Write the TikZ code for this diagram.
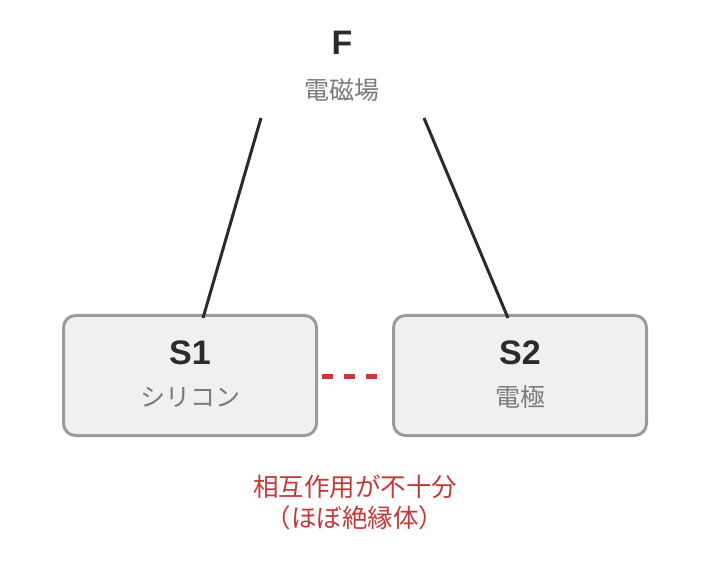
\documentclass[tikz,border=0pt]{standalone}
\usepackage{fontspec}
\setmainfont{Liberation Sans}
\newfontfamily\jpfont{Noto Sans CJK JP}
\definecolor{edgegray}{HTML}{9B9B9B}
\definecolor{fillgray}{HTML}{F0F0F0}
\definecolor{inkdark}{HTML}{2B2B2B}
\definecolor{subgray}{HTML}{7A7A7A}
\definecolor{weakred}{HTML}{C43A3A}

\begin{document}
\begin{tikzpicture}[x=1pt,y=-1pt,
part/.style = {draw=edgegray, line width=3pt, fill=fillgray, rounded corners=12pt,
               minimum width=253pt, minimum height=120pt},
label big/.style = {font=\fontsize{34}{34}\selectfont\bfseries, text=inkdark},
label jp/.style = {font=\jpfont\fontsize{25}{25}\selectfont, text=subgray},
link/.style = {draw=inkdark, line width=3pt}]
\useasboundingbox (0,0) rectangle (710,577);
% field on top
\node[label big] (F) at (342,43) {F};
\node[label jp] (Fkind) at (342,90) {電磁場};
\coordinate (Fleft) at (261,118);
\coordinate (Fright) at (424,118);
% the two parts
\node[part] (S1) at (190,375.5) {};
\node[label big] (S1name) at (190,353) {S1};
\node[label jp] (S1kind) at (190,397) {シリコン};
\node[part] (S2) at (520,375.5) {};
\node[label big] (S2name) at (520,353) {S2};
\node[label jp] (S2kind) at (520,397) {電極};
\draw[link] (Fleft) -- ([xshift=13pt,yshift=-4pt]S1.north);
\draw[link] (Fright) -- ([xshift=-12pt,yshift=-4pt]S2.north);
\draw[weakred, line width=5pt, dash pattern=on 11pt off 11pt]
   ([xshift=4pt,yshift=-1.5pt]S1.east) -- ([xshift=-10pt,yshift=-1.5pt]S2.west);
\node[font=\jpfont\fontsize{25.5}{31}\selectfont, text=weakred, align=center]
   (note) at (355,502) {相互作用が不十分\\（ほぼ絶縁体）};
\end{tikzpicture}
\end{document}
